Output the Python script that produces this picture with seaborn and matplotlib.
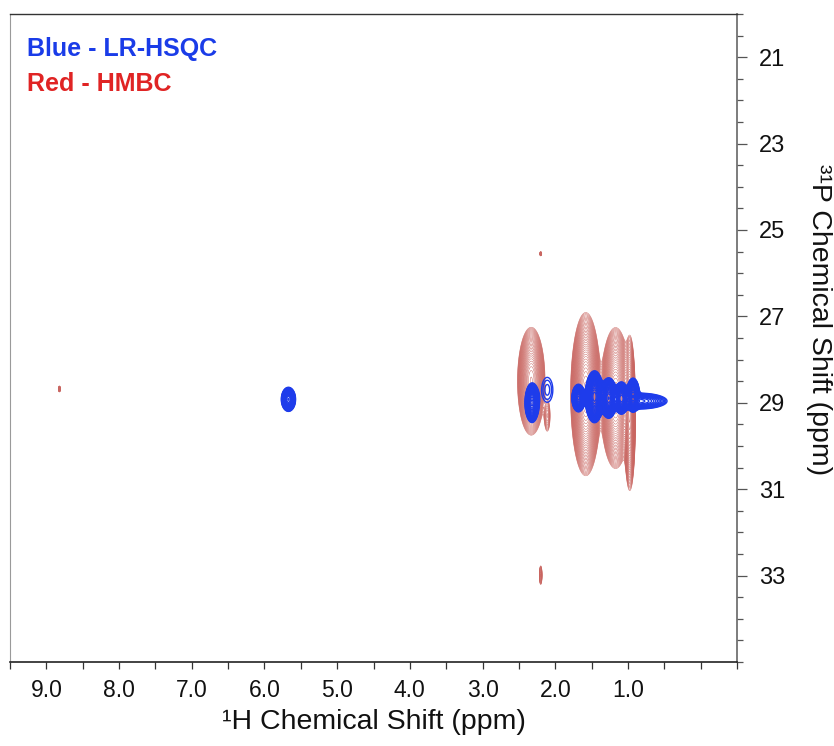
import numpy as np
import matplotlib
matplotlib.use("Agg")
import matplotlib.pyplot as plt
from matplotlib import font_manager
from matplotlib.ticker import FixedLocator, FixedFormatter
import seaborn as sns

# ---- cross peaks -------------------------------------------------------
# HMBC (red): 1H shift, 31P shift, intensity, sigma(1H), sigma(31P)
hmbc_h = [2.33, 2.11, 1.58, 1.17, 0.975, 2.20, 2.20, 8.82]
hmbc_p = [28.50, 29.30, 28.80, 28.89, 29.24, 25.55, 32.99, 28.68]
hmbc_int = [40, 3, 90, 70, 40, 3, 4, 4]
hmbc_sh = [0.070, 0.027, 0.070, 0.072, 0.030, 0.010, 0.012, 0.010]
hmbc_sp = [0.46, 0.24, 0.63, 0.56, 0.66, 0.034, 0.13, 0.042]

# LR-HSQC (blue)
hsqc_h = [5.67, 2.32, 2.11, 1.68, 1.46, 1.265, 1.09, 0.93, 0.85]
hsqc_p = [28.92, 29.00, 28.70, 28.89, 28.86, 28.89, 28.89, 28.82, 28.96]
hsqc_int = [20, 25, 1.5, 25, 60, 45, 35, 30, 8]
hsqc_sh = [0.040, 0.038, 0.085, 0.036, 0.045, 0.042, 0.038, 0.034, 0.19]
hsqc_sp = [0.114, 0.18, 0.32, 0.126, 0.21, 0.17, 0.14, 0.15, 0.09]

x_ticks = [9.0, 8.0, 7.0, 6.0, 5.0, 4.0, 3.0, 2.0, 1.0]
y_ticks = [21, 23, 25, 27, 29, 31, 33]

# ---- style -------------------------------------------------------------
sns.set_theme(style="ticks")
installed = {f.name for f in font_manager.fontManager.ttflist}
narrow = "Liberation Sans Narrow" if "Liberation Sans Narrow" in installed else "Liberation Sans"
plt.rcParams["font.family"] = [narrow, "DejaVu Sans"]

RED = "#c96560"
BLUE = "#1e3ceb"

# ---- spectra on a ppm grid ---------------------------------------------
h_axis = np.linspace(-0.5, 9.5, 2501)
p_axis = np.linspace(20.0, 35.0, 1501)


def spectrum(hs, ps, amps, sh, sp):
    z = np.zeros((p_axis.size, h_axis.size))
    for h0, p0, a, wh, wp in zip(hs, ps, amps, sh, sp):
        gh = np.exp(-0.5 * ((h_axis - h0) / wh) ** 2)
        gp = np.exp(-0.5 * ((p_axis - p0) / wp) ** 2)
        z += a * np.outer(gp, gh)
    return z


z_hmbc = spectrum(hmbc_h, hmbc_p, hmbc_int, hmbc_sh, hmbc_sp)
z_hsqc = spectrum(hsqc_h, hsqc_p, hsqc_int, hsqc_sh, hsqc_sp)

red_levels = 1.0 * 1.13 ** np.arange(38)
blue_levels = 1.0 * 1.18 ** np.arange(26)

fig = plt.figure(figsize=(8.34, 7.46), dpi=100)
ax = fig.add_axes([10 / 834, 1 - 662 / 746, 727 / 834, 648 / 746])

ax.contour(h_axis, p_axis, z_hmbc, levels=red_levels, colors=RED, linewidths=0.35)
ax.contour(h_axis, p_axis, z_hsqc, levels=blue_levels, colors=BLUE, linewidths=1.0)

ax.set_xlim(9.5, -0.5)
ax.set_ylim(35, 20)

# ticks
ax.xaxis.set_major_locator(FixedLocator(x_ticks))
ax.xaxis.set_major_formatter(FixedFormatter([f"{v:.1f}" for v in x_ticks]))
ax.xaxis.set_minor_locator(FixedLocator(np.arange(-0.5, 9.51, 0.5)))
ax.yaxis.tick_right()
ax.yaxis.set_major_locator(FixedLocator(y_ticks))
ax.yaxis.set_major_formatter(FixedFormatter([str(v) for v in y_ticks]))
ax.yaxis.set_minor_locator(FixedLocator(np.arange(20, 35.01, 0.5)))

ax.tick_params(axis="x", which="both", direction="out", length=5, width=0.9,
               color="#333333", labelsize=16.5, pad=7, labelcolor="#111111")
ax.tick_params(axis="y", which="major", direction="out", length=7, width=0.9,
               color="#555555", labelsize=17, pad=9, right=True, left=False,
               labelcolor="#111111")
ax.tick_params(axis="y", which="minor", direction="out", length=4, width=0.9,
               color="#555555", right=True, left=False)

for side, col, lw in [("bottom", "#222222", 1.2), ("top", "#333333", 1.0),
                      ("left", "#9a9a9a", 0.8), ("right", "#666666", 1.2)]:
    ax.spines[side].set_visible(True)
    ax.spines[side].set_color(col)
    ax.spines[side].set_linewidth(lw)

ax.set_xlabel("\u00b9H Chemical Shift (ppm)", fontsize=20.5, labelpad=5, color="#111111")
fig.text(819 / 834, 1 - 320 / 746, "\u00b3\u00b9P Chemical Shift (ppm)",
         rotation=270, fontsize=20.5, ha="center", va="center", color="#111111")

ax.text(0.0234, 0.946, "Blue - LR-HSQC", transform=ax.transAxes, color="#1a3ce8",
        fontsize=18, fontweight="bold", family=["Liberation Sans", "DejaVu Sans"],
        ha="left", va="center")
ax.text(0.0234, 0.892, "Red - HMBC", transform=ax.transAxes, color="#e02424",
        fontsize=18, fontweight="bold", family=["Liberation Sans", "DejaVu Sans"],
        ha="left", va="center")

fig.savefig("out.png", dpi=100, facecolor="white")
